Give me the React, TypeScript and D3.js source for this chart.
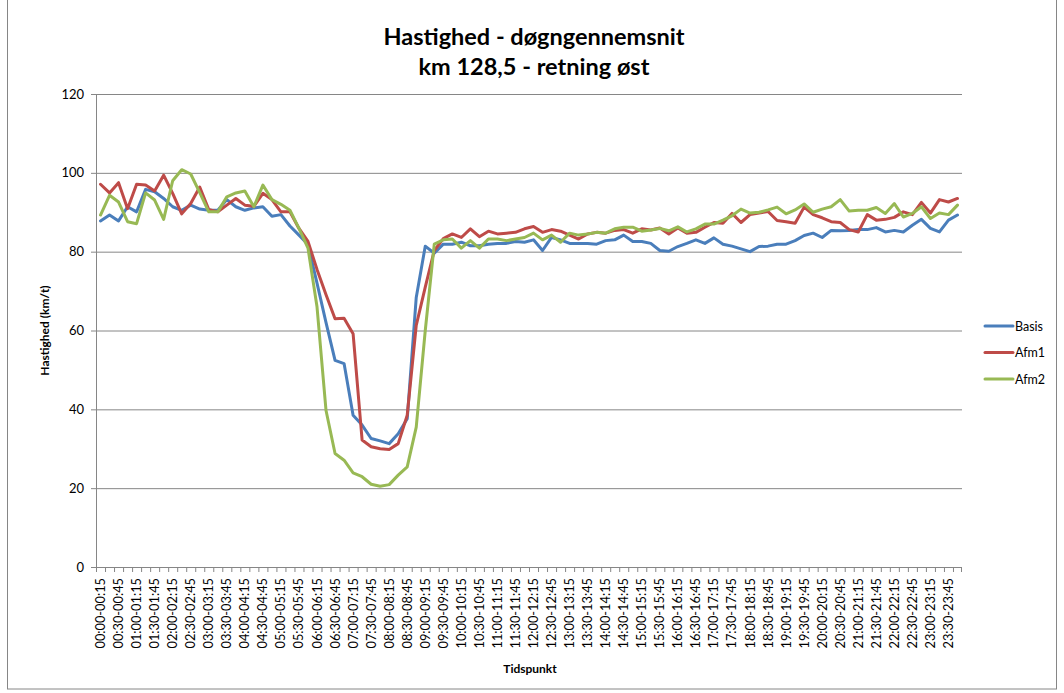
import React from "react";
import * as d3 from "d3";

const pad = (n: number) => String(n).padStart(2, "0");
const fmt = (m: number) => `${pad(Math.floor(m / 60))}:${pad(m % 60)}`;
const categories: string[] = Array.from({ length: 96 }, (_, i) => `${fmt(i * 15)}-${fmt(i * 15 + 15)}`);

const basis = [
  87.8, 89.3, 87.8, 91.4, 90.1, 95.8, 95.2, 93.5, 91.4, 90.5, 91.8, 90.8,
  90.5, 90.5, 93.2, 91.4, 90.5, 91.1, 91.4, 89.0, 89.4, 86.5, 84.2, 81.8,
  72.0, 62.0, 52.4, 51.6, 38.5, 36.0, 32.6, 32.0, 31.3, 33.8, 37.6, 68.4,
  81.4, 79.6, 81.9, 81.9, 82.4, 81.5, 81.5, 81.9, 82.1, 82.1, 82.6, 82.4,
  83.0, 80.3, 83.6, 83.0, 82.1, 82.1, 82.1, 81.9, 82.8, 83.0, 84.2, 82.6,
  82.6, 82.1, 80.3, 80.1, 81.3, 82.1, 83.0, 82.1, 83.5, 81.9, 81.4, 80.7,
  80.0, 81.3, 81.4, 81.9, 81.9, 82.8, 84.1, 84.7, 83.6, 85.4, 85.3, 85.4,
  85.6, 85.6, 86.1, 85.0, 85.4, 85.0, 86.7, 88.2, 85.9, 85.0, 88.0, 89.3,
];
const afm1 = [
  97.1, 94.9, 97.5, 90.9, 97.1, 96.9, 95.4, 99.4, 94.8, 89.6, 92.2, 96.4,
  90.7, 90.1, 91.8, 93.5, 91.8, 91.5, 94.8, 93.2, 90.1, 90.1, 85.9, 82.6,
  75.5, 69.1, 63.0, 63.1, 59.2, 32.2, 30.5, 30.0, 29.8, 31.3, 38.5, 61.3,
  71.0, 80.3, 83.3, 84.5, 83.6, 85.8, 83.8, 85.2, 84.5, 84.7, 84.9, 85.8,
  86.4, 84.9, 85.6, 85.2, 84.2, 83.2, 84.5, 84.9, 84.7, 85.4, 85.6, 84.7,
  85.8, 85.5, 86.0, 84.5, 86.0, 84.7, 84.9, 86.2, 87.4, 87.2, 89.7, 87.4,
  89.4, 89.8, 90.2, 87.9, 87.6, 87.2, 91.3, 89.4, 88.6, 87.6, 87.4, 85.6,
  85.0, 89.4, 88.0, 88.2, 88.7, 90.1, 89.4, 92.5, 89.8, 93.2, 92.6, 93.5,
];
const afm2 = [
  89.3, 94.3, 92.6, 87.6, 87.1, 94.9, 93.1, 88.2, 98.0, 100.8, 99.7, 95.0,
  90.1, 90.1, 93.9, 94.9, 95.4, 91.4, 96.9, 93.2, 92.0, 90.5, 85.9, 80.9,
  66.0, 39.7, 28.8, 27.1, 23.9, 22.9, 21.0, 20.5, 20.9, 23.3, 25.4, 35.5,
  60.0, 81.9, 83.0, 83.2, 80.9, 82.8, 80.9, 83.2, 83.2, 82.8, 83.2, 83.6,
  84.7, 83.0, 84.2, 82.4, 84.7, 84.2, 84.5, 84.9, 84.7, 85.8, 86.2, 86.2,
  85.2, 85.5, 85.9, 85.3, 86.3, 85.0, 85.8, 87.0, 87.0, 88.0, 89.1, 90.8,
  89.8, 90.0, 90.6, 91.3, 89.6, 90.6, 92.1, 90.0, 90.8, 91.4, 93.2, 90.3,
  90.5, 90.5, 91.2, 89.7, 92.2, 88.8, 89.7, 91.4, 88.4, 89.8, 89.4, 91.8,
];
const seriesNames = ["Basis", "Afm1", "Afm2"];
const seriesColors = ["#4A7EBB", "#BE4B48", "#98B954"];
const yTicks = [0, 20, 40, 60, 80, 100, 120];
const titleLines = ["Hastighed - døgngennemsnit", "km 128,5  - retning øst"];

const W = 1064, H = 693;
const left = 96, right = 962, top = 94, bottom = 567;
const FONT = "Lato, 'Open Sans', sans-serif";

export default function App() {
  const x = d3.scaleBand<string>().domain(categories).range([left, right]);
  const y = d3.scaleLinear().domain([0, 120]).range([bottom, top]);
  const cx = (i: number) => (x(categories[i]) as number) + x.bandwidth() / 2;
  const line = d3.line<number>().x((_, i) => cx(i)).y((d) => y(d));
  const data = [basis, afm1, afm2];
  return (
    <svg width={W} height={H} style={{ position: "absolute", left: 0, top: 0, background: "#fff" }} fontFamily={FONT}>
      <rect x={0} y={0} width={W} height={H} fill="#fff" />
      <rect x={7.5} y={-2} width={1049} height={691} fill="none" stroke="#868686" strokeWidth={1} />
      {titleLines.map((t, i) => (
        <text key={t} x={534} y={45 + i * 30} textAnchor="middle" fontSize={23.5} fontWeight="bold" fill="#000">{t}</text>
      ))}
      {yTicks.map((t) => (
        <g key={t}>
          {t > 0 && <line x1={left} x2={right} y1={y(t) + 0.5} y2={y(t) + 0.5} stroke="#868686" strokeWidth={1} />}
          <line x1={left - 5} x2={left} y1={y(t) + 0.5} y2={y(t) + 0.5} stroke="#868686" strokeWidth={1} />
          <text x={left - 12} y={y(t) + 4.5} textAnchor="end" fontSize={13} fill="#000">{t}</text>
        </g>
      ))}
      <line x1={left + 0.5} x2={left + 0.5} y1={top} y2={bottom} stroke="#868686" strokeWidth={1} />
      <line x1={left} x2={right} y1={bottom + 0.5} y2={bottom + 0.5} stroke="#868686" strokeWidth={1} />
      {categories.map((c) => (
        <line key={"t" + c} x1={(x(c) as number) + 0.5} x2={(x(c) as number) + 0.5} y1={bottom} y2={bottom + 5} stroke="#868686" strokeWidth={1} />
      ))}
      <line x1={right - 0.5} x2={right - 0.5} y1={bottom} y2={bottom + 5} stroke="#868686" strokeWidth={1} />
      {categories.map((c, i) =>
        i % 2 === 0 ? (
          <text key={"l" + c} transform={`translate(${cx(i) + 4.5},${bottom + 11}) rotate(-90)`} textAnchor="end" fontSize={12.8} fill="#000">{c}</text>
        ) : null
      )}
      <text transform={`translate(49,${(top + bottom) / 2}) rotate(-90)`} textAnchor="middle" fontSize={12} fontWeight="bold" fill="#000">Hastighed  (km/t)</text>
      <text x={530} y={673} textAnchor="middle" fontSize={12} fontWeight="bold" fill="#000">Tidspunkt</text>
      {data.map((d, k) => (
        <path key={seriesNames[k]} d={line(d) || ""} fill="none" stroke={seriesColors[k]} strokeWidth={3} strokeLinejoin="round" strokeLinecap="round" />
      ))}
      {seriesNames.map((n, k) => (
        <g key={"lg" + n}>
          <line x1={985} x2={1013} y1={326 + k * 26.5} y2={326 + k * 26.5} stroke={seriesColors[k]} strokeWidth={3} strokeLinecap="round" />
          <text x={1015} y={330.5 + k * 26.5} fontSize={12.5} fill="#000">{n}</text>
        </g>
      ))}
    </svg>
  );
}
